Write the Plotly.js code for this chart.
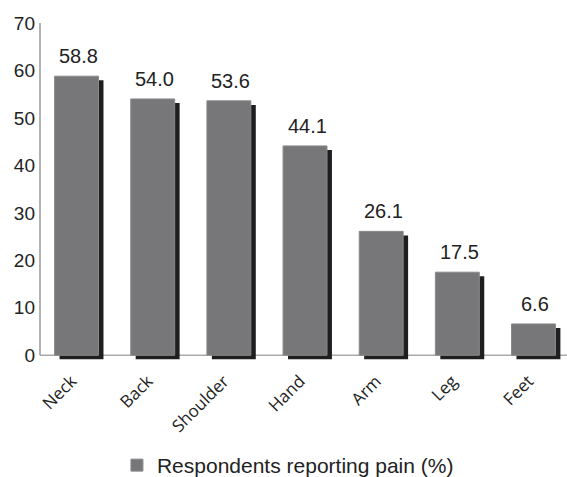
<!DOCTYPE html>
<html>
<head>
<meta charset="utf-8">
<script src="https://cdn.plot.ly/plotly-3.0.1.min.js"></script>
<style>html,body{margin:0;padding:0;background:#fff;}#chart{width:567px;height:477px;}</style>
</head>
<body>
<div id="chart"></div>
<script>
const categories = ["Neck", "Back", "Shoulder", "Hand", "Arm", "Leg", "Feet"];
const painPercent = [58.8, 54.0, 53.6, 44.1, 26.1, 17.5, 6.6];
const seriesName = "Respondents reporting pain (%)";
const yTicks = [0, 10, 20, 30, 40, 50, 60, 70];

const barWidth = 0.577;
const shadowShift = 0.065;
const shadowDrop = 0.85;

const shadow = {
  type: "bar",
  x: categories,
  y: painPercent,
  base: painPercent.map(() => -shadowDrop),
  width: barWidth,
  offset: -barWidth / 2 + shadowShift,
  marker: { color: "#1f1f1f", line: { width: 0 } },
  showlegend: false,
  hoverinfo: "skip"
};

const bars = {
  type: "bar",
  name: seriesName,
  x: categories,
  y: painPercent,
  width: barWidth,
  offset: -barWidth / 2,
  marker: { color: "#77777a", line: { color: "#8a8a8c", width: 1 } },
  showlegend: true
};

const annotations = categories.map((c, i) => ({
  x: c, y: painPercent[i], xref: "x", yref: "y",
  text: painPercent[i].toFixed(1),
  showarrow: false, yanchor: "bottom", xshift: 2, yshift: 7,
  font: { family: "Liberation Sans, Arial, sans-serif", size: 20, color: "#222" }
}));

const layout = {
  width: 567, height: 477,
  margin: { l: 40, r: 0, t: 23, b: 117, autoexpand: false },
  paper_bgcolor: "#fff", plot_bgcolor: "#fff",
  barmode: "overlay",
  showlegend: true,
  legend: {
    x: 0.146, xanchor: "left", y: -0.313, yanchor: "middle",
    orientation: "h",
    font: { family: "Liberation Sans, Arial, sans-serif", size: 21, color: "#222" }
  },
  xaxis: {
    type: "category",
    range: [-0.48, 6.44],
    showline: false, showgrid: false, zeroline: false,
    ticks: "", tickangle: -45, ticklabelstandoff: 7, ticklabelshift: -5,
    tickfont: { family: "Open Sans, sans-serif", size: 17, color: "#222" }
  },
  yaxis: {
    range: [-1, 70],
    tickvals: yTicks,
    showline: false, showgrid: false, zeroline: false,
    ticks: "", ticklabelstandoff: 4,
    tickfont: { family: "Liberation Sans, Arial, sans-serif", size: 19, color: "#222" }
  },
  shapes: [
    { type: "line", xref: "paper", yref: "y", x0: 0, x1: 0, y0: 0, y1: 70, line: { color: "#999", width: 1.5 }, layer: "below" },
    { type: "line", xref: "paper", yref: "y", x0: 0, x1: 1, y0: 0, y1: 0, line: { color: "#aaa", width: 1.5 }, layer: "below" }
  ],
  annotations: annotations
};

Plotly.newPlot("chart", [shadow, bars], layout, { displayModeBar: false, staticPlot: true });
</script>
</body>
</html>
